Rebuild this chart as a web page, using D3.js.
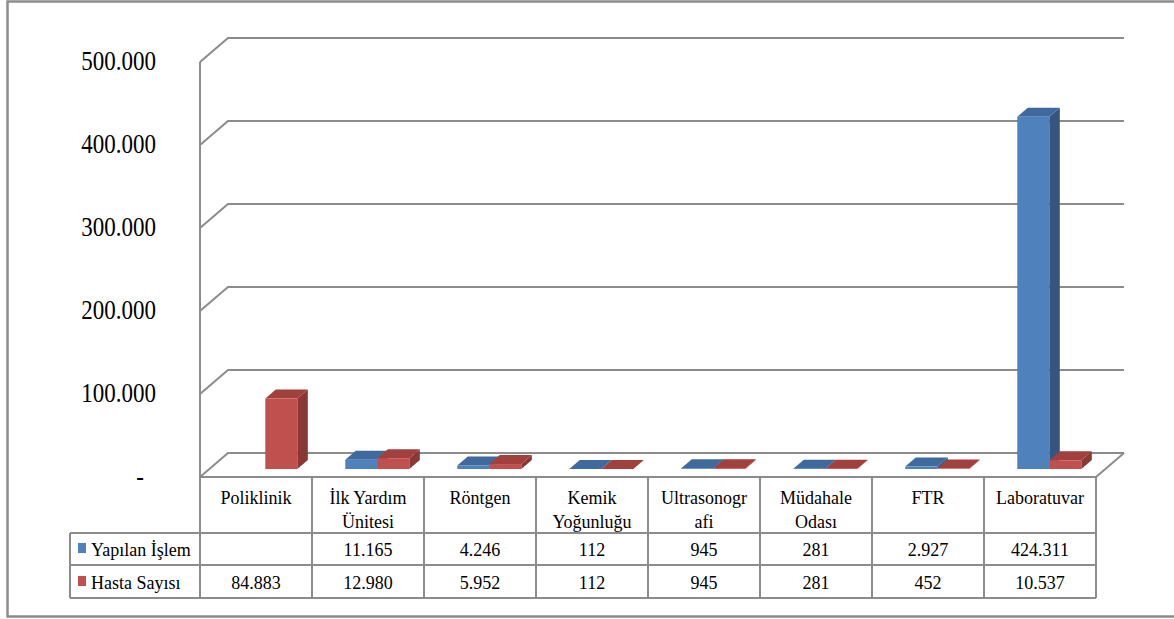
<!DOCTYPE html>
<html>
<head>
<meta charset="utf-8">
<script src="https://cdn.jsdelivr.net/npm/d3@7"></script>
</head>
<body style="margin:0; background:#fff">
<div id="chart"></div>
<script>
const categories = ["Poliklinik", "İlk Yardım\nÜnitesi", "Röntgen", "Kemik\nYoğunluğu",
    "Ultrasonogr\nafi", "Müdahale\nOdası", "FTR", "Laboratuvar"];
const seriesNames = ["Yapılan İşlem", "Hasta Sayısı"];
const yapilanIslem = [null, 11165, 4246, 112, 945, 281, 2927, 424311];
const hastaSayisi = [84883, 12980, 5952, 112, 945, 281, 452, 10537];
const yTicks = [0, 100000, 200000, 300000, 400000, 500000];

const WIDTH = 1174, HEIGHT = 619;
const FONT = "Liberation Serif";
const PLOT = { left: 200, right: 1096, top: 62, bottom: 477 };
const DEPTH = { dx: 28, dy: -24 };          // floor / wall depth
const BAR_OFF = { dx: 9.3, dy: -8 };        // where bars stand on the floor
const BAR_DEPTH = { dx: 10.5, dy: -9 };     // bar thickness
const LEGEND_LEFT = 70;
const ROWS = [477, 533, 565, 598];
const GRID = "#8c8c8c";
const COLORS = [
    { front: "#4F81BD", side: "#35557F", top: "#3F6A9D" },
    { front: "#C0504D", side: "#8A3836", top: "#A1403D" }
];

const series = [yapilanIslem, hastaSayisi];
const fmt = d3.formatLocale({ decimal: ",", thousands: ".", grouping: [3], currency: ["", ""] }).format(",d");

const svg = d3.select("#chart")
    .append("svg")
    .attr("width", WIDTH)
    .attr("height", HEIGHT);

// outer frame
svg.append("rect")
    .attr("x", 7.5).attr("y", 1.5)
    .attr("width", WIDTH + 10).attr("height", 615)
    .attr("fill", "none")
    .attr("stroke", GRID)
    .attr("stroke-width", 2.5);

const x = d3.scaleBand()
    .domain(categories)
    .range([PLOT.left, PLOT.right])
    .padding(0);

const xSub = d3.scaleBand()
    .domain(seriesNames)
    .range([x.bandwidth() * 0.214, x.bandwidth() * 0.786])
    .padding(0);

const y = d3.scaleLinear()
    .domain([0, 500000])
    .range([PLOT.bottom, PLOT.top]);

// --- Walls / gridlines ---
const grid = svg.append("g")
    .attr("fill", "none")
    .attr("stroke", GRID)
    .attr("stroke-width", 2);

grid.selectAll(".grid")
    .data(yTicks)
    .join("path")
    .attr("d", d => {
        const yy = y(d);
        return `M${PLOT.left},${yy} L${PLOT.left + DEPTH.dx},${yy + DEPTH.dy} L${PLOT.right + DEPTH.dx},${yy + DEPTH.dy}`;
    });

grid.append("path")
    .attr("d", `M${PLOT.left},${y(500000)} V${PLOT.bottom} H${PLOT.right} L${PLOT.right + DEPTH.dx},${PLOT.bottom + DEPTH.dy}`);

// --- Y axis labels ---
svg.selectAll(".ylab")
    .data(yTicks)
    .join("text")
    .attr("class", "ylab")
    .attr("text-anchor", "end")
    .attr("transform", d => `translate(${d === 0 ? 144 : 156},${y(d) + 8}) scale(1,1.15)`)
    .style("font-family", FONT)
    .style("font-size", "23px")
    .text(d => d === 0 ? "-" : fmt(d));

// --- Bars (3D) ---
const bars = [];
categories.forEach((c, ci) => {
    seriesNames.forEach((s, si) => {
        const v = series[si][ci];
        if (v == null) return;
        bars.push({ c, s, si, v });
    });
});

const barG = svg.selectAll(".bar")
    .data(bars)
    .join("g")
    .attr("class", "bar");

function barGeom(d) {
    const x0 = x(d.c) + xSub(d.s) + BAR_OFF.dx;
    const x1 = x0 + xSub.bandwidth();
    const yb = PLOT.bottom + BAR_OFF.dy;
    const yt = y(d.v) + BAR_OFF.dy;
    return { x0, x1, yb, yt };
}

barG.append("path")
    .attr("fill", d => COLORS[d.si].side)
    .attr("d", d => {
        const g = barGeom(d);
        return `M${g.x1},${g.yt} L${g.x1 + BAR_DEPTH.dx},${g.yt + BAR_DEPTH.dy} L${g.x1 + BAR_DEPTH.dx},${g.yb + BAR_DEPTH.dy} L${g.x1},${g.yb}Z`;
    });

barG.append("path")
    .attr("fill", d => COLORS[d.si].top)
    .attr("d", d => {
        const g = barGeom(d);
        return `M${g.x0},${g.yt} L${g.x1},${g.yt} L${g.x1 + BAR_DEPTH.dx},${g.yt + BAR_DEPTH.dy} L${g.x0 + BAR_DEPTH.dx},${g.yt + BAR_DEPTH.dy}Z`;
    });

barG.append("rect")
    .attr("fill", d => COLORS[d.si].front)
    .attr("x", d => barGeom(d).x0)
    .attr("y", d => barGeom(d).yt)
    .attr("width", xSub.bandwidth())
    .attr("height", d => barGeom(d).yb - barGeom(d).yt);

// --- Data table ---
const table = svg.append("g")
    .attr("fill", "none")
    .attr("stroke", GRID)
    .attr("stroke-width", 2);

table.append("path")
    .attr("d", `M${PLOT.left},${ROWS[0]} H${PLOT.right}`
        + ` M${LEGEND_LEFT},${ROWS[1]} H${PLOT.right}`
        + ` M${LEGEND_LEFT},${ROWS[2]} H${PLOT.right}`
        + ` M${LEGEND_LEFT},${ROWS[3]} H${PLOT.right}`);

table.append("path")
    .attr("d", `M${LEGEND_LEFT},${ROWS[1]} V${ROWS[3]}`);
table.selectAll(".vline")
    .data(categories)
    .join("path")
    .attr("d", d => `M${x(d)},${ROWS[0]} V${ROWS[3]}`);
table.append("path")
    .attr("d", `M${PLOT.right},${ROWS[0]} V${ROWS[3]}`);

// category labels (one text per line)
const catLines = [];
categories.forEach(c => c.split("\n").forEach((t, i) => catLines.push({ c, t, i })));

svg.selectAll(".cat")
    .data(catLines)
    .join("text")
    .attr("class", "cat")
    .attr("text-anchor", "middle")
    .attr("x", d => x(d.c) + x.bandwidth() / 2)
    .attr("y", d => 504 + d.i * 24)
    .style("font-family", FONT)
    .style("font-size", "18px")
    .text(d => d.t);

// value rows
seriesNames.forEach((s, si) => {
    const baseline = [556, 589][si];
    svg.selectAll(".val" + si)
        .data(categories)
        .join("text")
        .attr("class", "val" + si)
        .attr("text-anchor", "middle")
        .attr("x", d => x(d) + x.bandwidth() / 2)
        .attr("y", baseline)
        .style("font-family", FONT)
        .style("font-size", "18px")
        .text((d, ci) => series[si][ci] == null ? "" : fmt(series[si][ci]));

    svg.append("rect")
        .attr("x", 78).attr("y", baseline - 13)
        .attr("width", 8).attr("height", 10)
        .attr("fill", COLORS[si].front);

    svg.append("text")
        .attr("x", 91)
        .attr("y", baseline)
        .style("font-family", FONT)
        .style("font-size", "18px")
        .text(s);
});
</script>
</body>
</html>
